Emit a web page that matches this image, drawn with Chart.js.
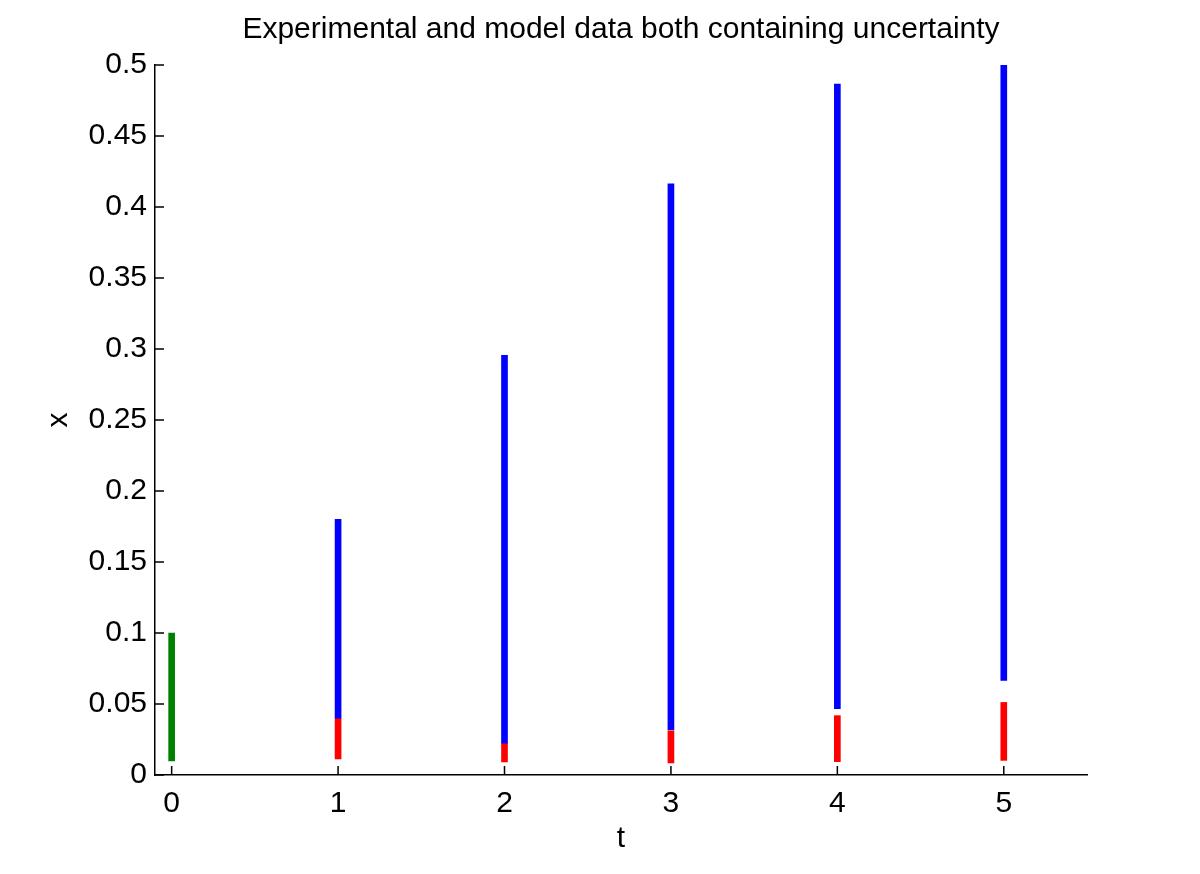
<!DOCTYPE html>
<html>
<head>
<meta charset="utf-8">
<script src="https://cdn.jsdelivr.net/npm/chart.js@4/dist/chart.umd.min.js"></script>
<style>
html,body{margin:0;padding:0;background:#fff;}
#c{display:block;}
</style>
</head>
<body>
<canvas id="c" width="1200" height="874"></canvas>
<script>
const titleText = "Experimental and model data both containing uncertainty";
const xTitle = "t";
const yTitle = "x";
const xTicks = [0, 1, 2, 3, 4, 5];
const yTicks = [0, 0.05, 0.1, 0.15, 0.2, 0.25, 0.3, 0.35, 0.4, 0.45, 0.5];

// initial experimental value (green)
const initT = [0];
const initLow = [0.010];
const initHigh = [0.100];

// model uncertainty (blue)
const modelT = [1, 2, 3, 4, 5];
const modelLow = [0.040, 0.0225, 0.0319, 0.0467, 0.0666];
const modelHigh = [0.180, 0.2955, 0.4164, 0.4866, 0.500];

// experimental uncertainty (red)
const expT = [1, 2, 3, 4, 5];
const expLow = [0.0113, 0.0092, 0.0085, 0.0094, 0.0103];
const expHigh = [0.040, 0.0225, 0.0312, 0.0418, 0.0511];

function toBars(ts, lo, hi) {
  return ts.map((t, i) => ({x: t, y: [lo[i], hi[i]]}));
}

const FONT = "'Liberation Sans', Arial, Helvetica, sans-serif";

const inwardTicks = {
  id: 'inwardTicks',
  afterDatasetsDraw(chart) {
    const {ctx, chartArea, scales} = chart;
    const len = 9;
    ctx.save();
    ctx.strokeStyle = '#000';
    ctx.lineWidth = 1.5;
    ctx.beginPath();
    xTicks.forEach(v => {
      const px = scales.x.getPixelForValue(v);
      ctx.moveTo(px, chartArea.bottom);
      ctx.lineTo(px, chartArea.bottom - len);
    });
    yTicks.forEach(v => {
      const py = scales.y.getPixelForValue(v);
      ctx.moveTo(chartArea.left, py);
      ctx.lineTo(chartArea.left + len, py);
    });
    ctx.stroke();
    ctx.restore();
  }
};

new Chart(document.getElementById('c'), {
  type: 'bar',
  data: {
    datasets: [
      {label: 'initial', data: toBars(initT, initLow, initHigh), backgroundColor: '#008000', barThickness: 6},
      {label: 'model', data: toBars(modelT, modelLow, modelHigh), backgroundColor: '#0000ff', barThickness: 6},
      {label: 'experiment', data: toBars(expT, expLow, expHigh), backgroundColor: '#ff0000', barThickness: 6}
    ]
  },
  options: {
    responsive: false,
    animation: false,
    grouped: false,
    layout: {padding: {left: 0, right: 113, top: 0, bottom: 0}},
    plugins: {
      legend: {display: false},
      tooltip: {enabled: false},
      title: {
        display: true,
        fullSize: false,
        text: titleText,
        color: '#000',
        font: {family: FONT, size: 30, weight: 'normal'},
        padding: {top: 11.3, bottom: 17.7}
      }
    },
    scales: {
      x: {
        type: 'linear',
        min: -0.1,
        max: 5.5,
        offset: false,
        afterBuildTicks(scale) { scale.ticks = xTicks.map(v => ({value: v})); },
        afterFit(scale) { scale.height = 99; },
        grid: {display: false, drawTicks: false, offset: false},
        border: {display: true, color: '#000', width: 1.5},
        ticks: {
          color: '#000',
          padding: 11,
          font: {family: FONT, size: 30},
          callback: v => String(v)
        },
        title: {
          display: true,
          text: xTitle,
          color: '#000',
          font: {family: FONT, size: 30},
          padding: {top: 0, bottom: 17}
        }
      },
      y: {
        type: 'linear',
        min: 0,
        max: 0.5,
        afterBuildTicks(scale) { scale.ticks = yTicks.map(v => ({value: v})); },
        afterFit(scale) { scale.width = 155; },
        grid: {display: false, drawTicks: false},
        border: {display: true, color: '#000', width: 1.5},
        ticks: {
          color: '#000',
          padding: 8,
          font: {family: FONT, size: 30},
          callback: v => String(parseFloat(Number(v).toFixed(2)))
        },
        title: {
          display: true,
          text: yTitle,
          color: '#000',
          font: {family: FONT, size: 30},
          padding: {top: 41, bottom: 0}
        }
      }
    }
  },
  plugins: [inwardTicks]
});
</script>
</body>
</html>
